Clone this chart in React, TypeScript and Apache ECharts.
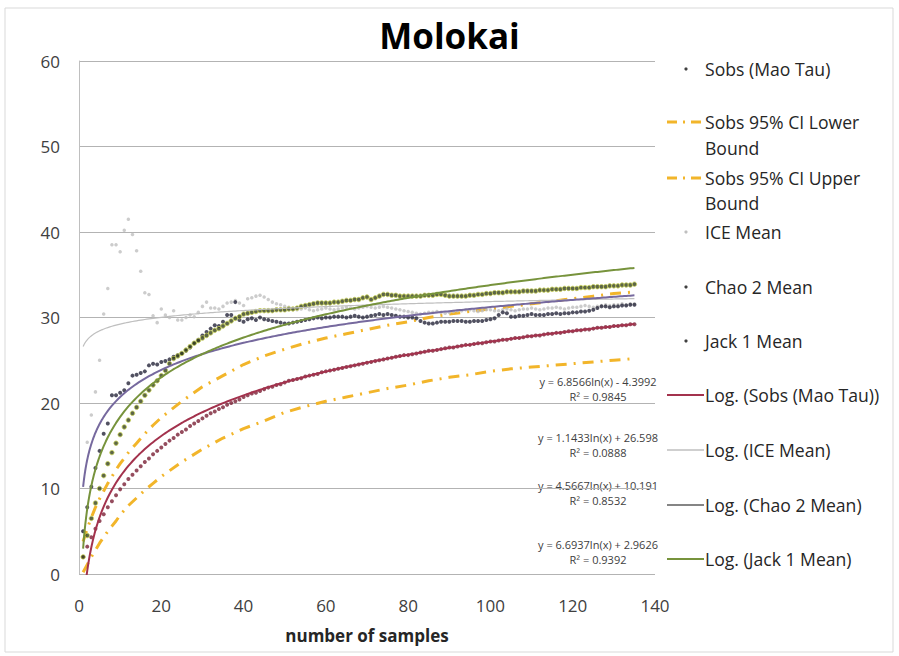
import React, { useEffect, useRef } from "react";
import * as echarts from "echarts";

// ---- data ----
const sobsMaoTau = [
  2.0, 3.2, 4.3, 5.3, 6.2, 7.0, 7.8, 8.5, 9.2, 9.9,
  10.5, 11.1, 11.6, 12.1, 12.6, 13.1, 13.5, 14.0, 14.4, 14.8,
  15.2, 15.6, 15.9, 16.3, 16.6, 16.9, 17.3, 17.6, 17.9, 18.2,
  18.5, 18.8, 19.0, 19.3, 19.5, 19.8, 20.0, 20.2, 20.4, 20.7,
  20.9, 21.1, 21.2, 21.4, 21.6, 21.8, 21.9, 22.1, 22.2, 22.4,
  22.6, 22.7, 22.8, 22.9, 23.1, 23.2, 23.3, 23.4, 23.6, 23.7,
  23.8, 23.9, 24.0, 24.1, 24.2, 24.3, 24.4, 24.5, 24.6, 24.7,
  24.8, 24.9, 25.0, 25.1, 25.2, 25.3, 25.4, 25.5, 25.6, 25.6,
  25.7, 25.8, 25.9, 26.0, 26.1, 26.1, 26.2, 26.3, 26.4, 26.5,
  26.5, 26.6, 26.7, 26.8, 26.8, 26.9, 27.0, 27.0, 27.1, 27.2,
  27.2, 27.3, 27.4, 27.4, 27.5, 27.6, 27.6, 27.7, 27.8, 27.8,
  27.9, 27.9, 28.0, 28.1, 28.1, 28.2, 28.2, 28.3, 28.4, 28.4,
  28.5, 28.5, 28.6, 28.6, 28.7, 28.8, 28.8, 28.9, 28.9, 29.0,
  29.0, 29.1, 29.1, 29.2, 29.2,
];

const iceMean = [
  5.0, 15.4, 18.6, 21.3, 25.0, 30.4, 33.4, 38.5, 38.5, 37.7,
  40.2, 41.5, 39.7, 37.8, 35.4, 32.9, 32.7, 30.2, 29.4, 31.0,
  30.3, 30.0, 30.8, 29.7, 29.7, 30.0, 30.3, 30.1, 30.6, 31.3,
  31.8, 31.1, 31.1, 31.0, 31.3, 31.7, 31.8, 32.0, 31.7, 31.4,
  32.2, 32.3, 32.5, 32.6, 32.4, 32.1, 31.8, 31.6, 31.5, 31.3,
  31.2, 31.0, 30.9, 31.0, 31.1, 30.9, 30.8, 30.9, 31.0, 31.1,
  31.0, 30.9, 31.0, 31.1, 31.2, 31.1, 31.0, 31.1, 31.2, 31.3,
  31.2, 31.1, 31.2, 31.3, 31.2, 31.1, 31.0, 30.9, 30.8, 30.7,
  30.6, 30.5, 30.4, 30.5, 30.6, 30.6, 30.7, 30.6, 30.5, 30.6,
  30.7, 30.8, 30.8, 30.9, 30.9, 30.8, 30.7, 30.8, 30.9, 30.9,
  30.8, 30.8, 30.9, 31.0, 30.9, 30.8, 30.9, 31.0, 31.0, 31.1,
  31.0, 30.9, 31.0, 31.1, 31.1, 31.2, 31.1, 31.0, 31.1, 31.2,
  31.2, 31.3, 31.4, 31.3, 31.2, 31.3, 31.4, 31.5, 31.4, 31.5,
  31.5, 31.6, 31.5, 31.6, 31.6,
];

const chao2Mean = [
  5.0, 7.8, 10.2, 12.4, 14.4, 16.4, 17.6, 20.9, 20.9, 21.2,
  21.5, 22.3, 23.2, 23.3, 23.5, 23.7, 24.4, 24.6, 24.5, 24.8,
  24.9, 25.1, 25.4, 25.6, 25.8, 26.1, 26.5, 27.0, 27.4, 27.9,
  28.3, 28.7, 29.1, 29.0, 29.5, 30.3, 30.3, 31.8, 29.7, 29.5,
  29.8, 29.9, 29.7, 30.0, 29.8, 29.7, 29.6, 29.5, 29.4, 29.3,
  29.3, 29.4, 29.5, 29.6, 29.7, 29.8, 29.9, 30.0, 29.9, 30.0,
  30.0, 30.1, 30.1, 30.1, 30.0, 30.1, 30.2, 30.1, 30.0, 30.1,
  30.2, 30.3, 30.4, 30.3, 30.4, 30.3, 30.2, 30.1, 30.1, 30.0,
  30.0, 29.9, 29.6, 29.4, 29.3, 29.3, 29.4, 29.5, 29.5, 29.5,
  29.6, 29.6, 29.6, 29.5, 29.5, 29.6, 29.6, 29.6, 29.7, 29.8,
  29.9, 30.3, 30.6, 30.5, 30.1, 30.1, 30.2, 30.2, 30.3, 30.4,
  30.3, 30.3, 30.3, 30.4, 30.4, 30.5, 30.4, 30.5, 30.5, 30.6,
  30.6, 30.7, 30.7, 30.8, 30.9, 31.1, 31.3, 31.3, 31.2, 31.3,
  31.3, 31.4, 31.4, 31.5, 31.5,
];

const jack1Mean = [
  2.0, 4.5, 6.5, 8.3, 10.0, 11.5, 12.9, 14.2, 15.3, 16.3,
  17.2, 18.0, 18.8, 19.5, 20.2, 20.9, 21.5, 22.1, 22.6, 23.2,
  23.8, 24.6, 25.2, 25.5, 25.8, 26.2, 26.6, 27.0, 27.3, 27.6,
  27.9, 28.2, 28.5, 28.7, 29.0, 29.3, 29.6, 29.9, 30.1, 30.4,
  30.5, 30.6, 30.7, 30.8, 30.8, 30.8, 30.8, 30.9, 30.9, 30.9,
  31.0, 31.0, 31.1, 31.3, 31.4, 31.5, 31.6, 31.7, 31.7, 31.7,
  31.7, 31.8, 31.8, 31.9, 32.0, 32.0, 32.1, 32.1, 32.3, 32.4,
  32.1, 32.3, 32.5, 32.7, 32.7, 32.6, 32.6, 32.5, 32.5, 32.5,
  32.5, 32.5, 32.5, 32.6, 32.6, 32.6, 32.7, 32.7, 32.6, 32.5,
  32.5, 32.5, 32.5, 32.5, 32.6, 32.6, 32.7, 32.7, 32.8, 32.8,
  32.9, 32.9, 32.9, 33.0, 33.0, 33.0, 33.0, 33.1, 33.1, 33.1,
  33.1, 33.2, 33.2, 33.2, 33.3, 33.3, 33.3, 33.4, 33.4, 33.4,
  33.4, 33.5, 33.5, 33.5, 33.6, 33.6, 33.6, 33.6, 33.7, 33.7,
  33.7, 33.8, 33.8, 33.8, 33.9,
];

const ciSamples = [1, 2, 3, 4, 5, 6, 7, 8, 9, 10, 12, 14, 16, 18, 20, 25, 30, 35, 40, 45, 50, 55, 60, 65, 70, 75, 80, 85, 90, 95, 100, 105, 110, 115, 120, 125, 130, 135];
const ciLower = [0.2, 1.1, 2.0, 2.8, 3.6, 4.3, 5.0, 5.6, 6.2, 6.9, 8.0, 8.9, 9.8, 10.6, 11.4, 13.1, 14.6, 15.9, 17.0, 17.9, 18.9, 19.6, 20.2, 20.7, 21.2, 21.7, 22.1, 22.6, 23.0, 23.3, 23.7, 24.0, 24.2, 24.4, 24.6, 24.8, 25.0, 25.2];
const ciUpper = [3.8, 5.3, 6.6, 7.8, 8.8, 9.7, 10.6, 11.4, 12.2, 12.9, 14.2, 15.3, 16.4, 17.4, 18.3, 20.2, 21.9, 23.2, 24.5, 25.5, 26.3, 27.0, 27.6, 28.1, 28.6, 29.1, 29.5, 30.0, 30.4, 30.7, 31.0, 31.3, 31.6, 31.9, 32.2, 32.5, 32.8, 33.0];

// Excel logarithmic trendlines: y = a ln(x) + b (coefficients shown on the chart)
const trendSobs = [6.8566, -4.3992];
const trendIce = [1.1433, 26.598];
const trendChao = [4.5667, 10.191];
const trendJack = [6.6937, 2.9626];
const trendLabels = [
  ["y = 6.8566ln(x) - 4.3992", "R² = 0.9845"],
  ["y = 1.1433ln(x) + 26.598", "R² = 0.0888"],
  ["y = 4.5667ln(x) + 10.191", "R² = 0.8532"],
  ["y = 6.6937ln(x) + 2.9626", "R² = 0.9392"],
];

const yTicks = [0, 10, 20, 30, 40, 50, 60];
const xTicks = [0, 20, 40, 60, 80, 100, 120, 140];

const FONT2 = "'Open Sans', Lato, sans-serif";
const TXT = "#262626";

const C_SOBS_DOT = "#7b2136";
const C_SOBS_LINE = "#a3324d";
const C_CI = "#f2b52a";
const C_ICE = "#bfbfbf";
const C_CHAO_DOT = "#26263a";
const C_CHAO_LINE = "#76699e";
const C_JACK_LINE = "#77933c";

function pairs(vals: number[]) {
  return vals.map((v, i) => [i + 1, v]);
}
function trend(coef: number[]) {
  const pts: number[][] = [];
  for (let k = 10; k <= 1350; k += k < 60 ? 1 : 5) {
    const x = k / 10;
    pts.push([x, coef[0] * Math.log(x) + coef[1]]);
  }
  return pts;
}

export default function App() {
  const ref = useRef<HTMLDivElement>(null);
  useEffect(() => {
    if (!ref.current) return;
    const chart = echarts.init(ref.current, undefined, { renderer: "svg" });

    const legendX = 705;
    const legendItems: any[] = [];
    const addText = (text: string, y: number) =>
      legendItems.push({
        type: "text",
        x: legendX,
        y,
        style: { text, fill: TXT, font: `17.6px ${FONT2}`, textVerticalAlign: "middle" },
        silent: true,
      });
    const addDot = (y: number, color: string) =>
      legendItems.push({ type: "circle", shape: { cx: 686, cy: y, r: 1.6 }, style: { fill: color }, silent: true });
    const addLine = (y: number, color: string, w: number, dash?: number[]) =>
      legendItems.push({
        type: "line",
        shape: { x1: 667, y1: y, x2: 704, y2: y },
        style: { stroke: color, lineWidth: w, lineDash: dash },
        silent: true,
      });

    addDot(69, "#404040"); addText("Sobs (Mao Tau)", 69);
    addLine(122, C_CI, 3, [10, 6, 2, 6]); addText("Sobs 95% CI Lower", 122); addText("Bound", 148);
    addLine(178, C_CI, 3, [10, 6, 2, 6]); addText("Sobs 95% CI Upper", 178); addText("Bound", 203);
    addDot(232, C_ICE); addText("ICE Mean", 232);
    addDot(287, "#404040"); addText("Chao 2 Mean", 287);
    addDot(341, "#404040"); addText("Jack 1 Mean", 341);
    addLine(395, C_SOBS_LINE, 2); addText("Log. (Sobs (Mao Tau))", 395);
    addLine(450, C_ICE, 1.5); addText("Log. (ICE Mean)", 450);
    addLine(505, "#858585", 2); addText("Log. (Chao 2 Mean)", 505);
    addLine(559, C_JACK_LINE, 2); addText("Log. (Jack 1 Mean)", 559);

    const eqY = [381, 437, 485, 544];
    const eqItems: any[] = [];
    trendLabels.forEach((pair, i) => {
      eqItems.push({
        type: "text", x: 598, y: eqY[i],
        style: { text: pair[0], fill: "#404040", font: `11px ${FONT2}`, textAlign: "center", textVerticalAlign: "middle" },
        silent: true,
      });
      eqItems.push({
        type: "text", x: 598, y: eqY[i] + 15,
        style: { text: pair[1], fill: "#404040", font: `11px ${FONT2}`, textAlign: "center", textVerticalAlign: "middle" },
        silent: true,
      });
    });

    chart.setOption({
      animation: false,
      backgroundColor: "#ffffff",
      title: {
        text: "Molokai",
        left: "center",
        top: 13,
        textStyle: { fontFamily: FONT2, fontSize: 35, fontWeight: "bold", color: "#000" },
      },
      grid: { left: 79, right: 244, top: 61, bottom: 82 },
      xAxis: {
        type: "value",
        min: xTicks[0],
        max: xTicks[xTicks.length - 1],
        interval: 20,
        name: "number of samples",
        nameLocation: "middle",
        nameGap: 53,
        nameTextStyle: { fontFamily: FONT2, fontSize: 17, fontWeight: "bold", color: TXT },
        axisLine: { show: false },
        axisTick: { show: false },
        splitLine: { show: false },
        axisLabel: { fontFamily: FONT2, fontSize: 17, color: "#404040", margin: 23 },
      },
      yAxis: {
        type: "value",
        min: yTicks[0],
        max: yTicks[yTicks.length - 1],
        interval: 10,
        axisLine: { show: true, lineStyle: { color: "#bfbfbf", width: 1 } },
        axisTick: { show: false },
        splitLine: { show: true, lineStyle: { color: "#b3b3b3", width: 1 } },
        axisLabel: { fontFamily: FONT2, fontSize: 17, color: "#404040", margin: 19 },
      },
      graphic: [
        {
          type: "rect",
          shape: { x: 5, y: 8, width: 888, height: 644 },
          style: { fill: "none", stroke: "#d9d9d9", lineWidth: 1 },
          silent: true,
          z: -10,
        },
        ...legendItems,
        ...eqItems,
      ],
      series: [
        { name: "Sobs (Mao Tau)", type: "scatter", data: pairs(sobsMaoTau), symbolSize: 4, itemStyle: { color: C_SOBS_DOT }, z: 3 },
        {
          name: "Sobs 95% CI Lower Bound", type: "line", data: ciSamples.map((x, i) => [x, ciLower[i]]),
          showSymbol: false, symbol: "none", lineStyle: { color: C_CI, width: 3, type: [11, 7, 2, 7] }, z: 2,
        },
        {
          name: "Sobs 95% CI Upper Bound", type: "line", data: ciSamples.map((x, i) => [x, ciUpper[i]]),
          showSymbol: false, symbol: "none", lineStyle: { color: C_CI, width: 3, type: [11, 7, 2, 7] }, z: 2,
        },
        { name: "ICE Mean", type: "scatter", data: pairs(iceMean), symbolSize: 3.5, itemStyle: { color: C_ICE }, z: 3 },
        { name: "Chao 2 Mean", type: "scatter", data: pairs(chao2Mean), symbolSize: 4, itemStyle: { color: C_CHAO_DOT }, z: 3 },
        {
          name: "Jack 1 Mean", type: "scatter", data: pairs(jack1Mean), symbolSize: 4.5,
          itemStyle: { color: "#34401a", borderColor: "#cdd65a", borderWidth: 1 }, z: 3,
        },
        { name: "Log. (Sobs (Mao Tau))", type: "line", data: trend(trendSobs), showSymbol: false, symbol: "none", lineStyle: { color: C_SOBS_LINE, width: 2 }, z: 4 },
        { name: "Log. (ICE Mean)", type: "line", data: trend(trendIce), showSymbol: false, symbol: "none", lineStyle: { color: C_ICE, width: 1.2 }, z: 4 },
        { name: "Log. (Chao 2 Mean)", type: "line", data: trend(trendChao), showSymbol: false, symbol: "none", lineStyle: { color: C_CHAO_LINE, width: 2 }, z: 4 },
        { name: "Log. (Jack 1 Mean)", type: "line", data: trend(trendJack), showSymbol: false, symbol: "none", lineStyle: { color: C_JACK_LINE, width: 2 }, z: 4 },
      ],
    });
    return () => chart.dispose();
  }, []);

  return (
    <div
      ref={ref}
      style={{ position: "absolute", left: 0, top: 0, width: 899, height: 656, background: "#fff" }}
    />
  );
}
